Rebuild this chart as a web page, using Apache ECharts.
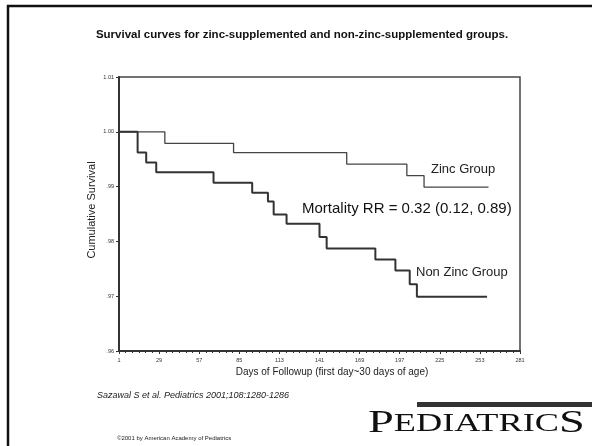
<!DOCTYPE html>
<html>
<head>
<meta charset="utf-8">
<script src="https://cdn.jsdelivr.net/npm/echarts@6/dist/echarts.min.js"></script>
<style>
  html, body { margin: 0; padding: 0; background: #fff; }
  #chart { width: 592px; height: 446px; }
</style>
</head>
<body>
<div id="chart"></div>
<script>
// datos (dias de seguimiento y supervivencia acumulada)
const zincDays = [1, 33, 81, 160, 202, 214, 259];
const zincSurv = [1.000, 0.9979, 0.9962, 0.9941, 0.9920, 0.9899, 0.9899];

const nonZincDays = [1, 14, 20, 27, 67, 94, 105, 109, 118, 141, 146, 180, 194, 204, 209, 258];
const nonZincSurv = [1.000, 0.9962, 0.9944, 0.9926, 0.9907, 0.9889, 0.9873, 0.9849, 0.9832,
                     0.9808, 0.9787, 0.9767, 0.9747, 0.9722, 0.9699, 0.9699];

const xTickLabels = ['1', '29', '57', '85', '113', '141', '169', '197', '225', '253', '281'];
const yTickLabels = ['.96', '.97', '.98', '.99', '1.00', '1.01'];

// el eje x empieza en 0 = dia 1
const toPoints = (days, surv) => days.map((d, i) => [d - 1, surv[i]]);

const chart = echarts.init(document.getElementById('chart'));

const option = {
    animation: false,
    backgroundColor: '#fff',
    grid: {
        left: 119, right: 72, top: 77, bottom: 95,
        show: true,
        borderColor: '#444',
        borderWidth: 1.5
    },
    xAxis: {
        type: 'value',
        min: 0, max: 280, interval: 28,
        splitLine: { show: false },
        axisLine: { lineStyle: { color: '#333', width: 2 } },
        axisTick: { show: true, length: 3, lineStyle: { color: '#333' } },
        minorTick: { show: true, splitNumber: 6, length: 2, lineStyle: { color: '#333' } },
        axisLabel: {
            fontSize: 5.5, color: '#333', margin: 6,
            formatter: (v) => xTickLabels[Math.round(v / 28)]
        }
    },
    yAxis: {
        type: 'value',
        min: 0.96, max: 1.01, interval: 0.01,
        splitLine: { show: false },
        axisLine: { lineStyle: { color: '#333', width: 2 } },
        axisTick: { show: true, length: 3, lineStyle: { color: '#333' } },
        axisLabel: {
            fontSize: 5.5, color: '#333', margin: 5,
            formatter: (v) => yTickLabels[Math.round((v - 0.96) / 0.01)]
        }
    },
    series: [
        {
            name: 'Zinc Group',
            type: 'line',
            step: 'end',
            symbol: 'none',
            lineStyle: { color: '#444', width: 1.3 },
            data: toPoints(zincDays, zincSurv)
        },
        {
            name: 'Non Zinc Group',
            type: 'line',
            step: 'end',
            symbol: 'none',
            lineStyle: { color: '#333', width: 2 },
            data: toPoints(nonZincDays, nonZincSurv)
        }
    ],
    graphic: [
        // marco de la diapositiva
        { type: 'polyline', shape: { points: [[8, 470], [8, 6], [620, 6]] },
          style: { stroke: '#111', lineWidth: 2.5, fill: null } },
        { type: 'text', x: 302, y: 35,
          style: { text: 'Survival curves for zinc-supplemented and non-zinc-supplemented groups.',
                   font: 'bold 11.5px Arial', fill: '#111', align: 'center', verticalAlign: 'middle' } },
        { type: 'text', x: 92, y: 210, rotation: Math.PI / 2,
          style: { text: 'Cumulative Survival', font: '11px Arial', fill: '#222',
                   align: 'center', verticalAlign: 'middle' } },
        { type: 'text', x: 332, y: 372,
          style: { text: 'Days of Followup (first day~30 days of age)', font: '10px Arial', fill: '#222',
                   align: 'center', verticalAlign: 'middle' } },
        { type: 'text', x: 431, y: 169,
          style: { text: 'Zinc Group', font: '13px Arial', fill: '#222', verticalAlign: 'middle' } },
        { type: 'text', x: 302, y: 209,
          style: { text: 'Mortality RR = 0.32 (0.12, 0.89)', font: '15px Arial', fill: '#111', verticalAlign: 'middle' } },
        { type: 'text', x: 416, y: 272,
          style: { text: 'Non Zinc Group', font: '13px Arial', fill: '#222', verticalAlign: 'middle' } },
        { type: 'text', x: 97, y: 395,
          style: { text: 'Sazawal S et al. Pediatrics 2001;108:1280-1286', font: 'italic 9px Arial', fill: '#222',
                   verticalAlign: 'middle' } },
        { type: 'text', x: 117, y: 438,
          style: { text: '\u00a92001 by American Academy of Pediatrics', font: '6px Arial', fill: '#222',
                   verticalAlign: 'middle' } },
        { type: 'rect', shape: { x: 417, y: 402, width: 175, height: 5 }, style: { fill: '#333' } },
        { type: 'text', x: 368, y: 440, scaleX: 1.45, originX: 0, originY: 0,
          style: {
              text: '{a|P}{b|EDIATRIC}{a|S}',
              verticalAlign: 'bottom',
              rich: {
                  a: { fontFamily: 'Liberation Serif', fontSize: 32, fill: '#111', color: '#111' },
                  b: { fontFamily: 'Liberation Serif', fontSize: 25, fill: '#111', color: '#111' }
              }
          } }
    ]
};

chart.setOption(option);
</script>
</body>
</html>
